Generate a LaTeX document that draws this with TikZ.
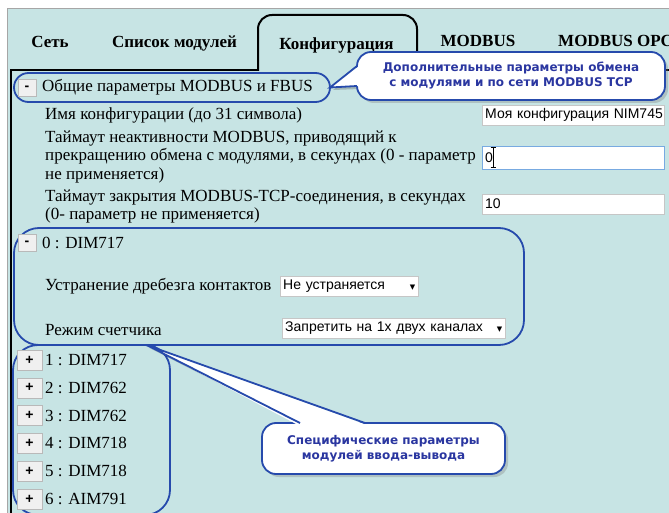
\documentclass[tikz,border=0pt]{standalone}
\usepackage{fontspec}
\setmainfont{Liberation Serif}
\newfontfamily\uifont{Liberation Sans}
\newfontfamily\notefont{DejaVu Sans}
\usetikzlibrary{positioning,calc,shadows}

\definecolor{panelbg}{RGB}{199,228,228}
\definecolor{markblue}{RGB}{38,74,172}
\definecolor{noteblue}{RGB}{42,54,160}
\definecolor{focusblue}{RGB}{120,170,225}

\tikzset{
  tablabel/.style={inner sep=0pt,font=\bfseries\fontsize{17}{20}\selectfont},
  rowlabel/.style={anchor=west,inner sep=0pt,align=left,font=\fontsize{17}{18.5}\selectfont},
  field/.style={anchor=west,draw=gray!45,fill=white,inner sep=3pt,minimum height=20pt,align=left,font=\uifont\fontsize{14}{15}\selectfont},
  pmbutton/.style={draw=gray!55,fill=gray!12,inner sep=0pt,minimum width=18pt,minimum height=17pt,font=\uifont\bfseries\fontsize{14}{14}\selectfont},
  ringbox/.style={draw=markblue,line width=1.8pt,inner sep=0pt,outer sep=0pt},
  notebox/.style={draw=markblue,line width=1.8pt,fill=white,outer sep=0pt,rounded corners=14pt,align=center,text=noteblue,font=\notefont\bfseries\fontsize{12}{15}\selectfont,drop shadow={shadow xshift=3pt,shadow yshift=-3pt,opacity=.35}},
  notetail/.style={draw=markblue,line width=1.8pt,line join=miter},
}

\begin{document}
\begin{tikzpicture}[x=1pt,y=-1pt]
    \useasboundingbox (0,0) rectangle (669,513);
    \clip (0,0) rectangle (669,513);
    \fill[panelbg] (7,8) rectangle (680,520);
    \draw[gray!70] (7,520) -- (7,8) -- (680,8);
    \draw[line width=1.5pt] (11,520) -- (11,70) -- (258,70);
    \draw[line width=1.5pt] (417,70) -- (680,70);
    \draw[line width=2pt,rounded corners=14pt] (258,71) -- (258,15) -- (417,15) -- (417,71);

    \node[tablabel,anchor=base] (tabnet) at (50,48) {Сеть};
    \node[tablabel,anchor=base] (tabmods) at (174.5,48) {Список модулей};
    \node[tablabel,anchor=base] (tabconf) at (336.5,50) {Конфигурация};
    \node[tablabel,anchor=base] (tabmb) at (478,47) {MODBUS};
    \node[tablabel,anchor=base west] (tabopc) at (558,47) {MODBUS OPC};

    \node[ringbox,rounded corners=14.5pt,minimum width=316pt,minimum height=29pt] (ringcommon) at (172,87.5) {};
    \node[pmbutton] (btncommon) at (27,88) {-};
    \node[rowlabel] (common) at (42,87) {Общие параметры MODBUS и FBUS};
    \node[rowlabel] (cfglabel) at (45,115) {Имя конфигурации (до 31 символа)};
    \node[field,text width=176pt] (cfgname) at (482,115) {\mbox{Моя конфигурация NIM745}};
    \node[rowlabel] (idlelabel) at (45,156.5) {Таймаут неактивности MODBUS, приводящий к\\прекращению обмена с модулями, в секундах (0 - параметр\\не применяется)};
    \node[field,draw=focusblue,text width=176pt,minimum height=23pt] (idleval) at (482,157.5) {0};
    \draw[line width=0.9pt] (493,148) -- (493,167) (490.5,147.5) -- (495.5,147.5) (490.5,167.5) -- (495.5,167.5);
    \node[rowlabel] (closelabel) at (45,206.5) {Таймаут закрытия MODBUS-TCP-соединения, в секундах\\(0- параметр не применяется)};
    \node[field,text width=176pt] (closeval) at (482,204) {10};

    \node[ringbox,rounded corners=25pt,minimum width=510pt,minimum height=117pt] (ringdim) at (269,286.5) {};
    \node[pmbutton] (btndim) at (27,243) {-};
    \node[rowlabel] (dimhead) at (42,243) {0 : DIM717};
    \node[rowlabel] (debouncelabel) at (45,286) {Устранение дребезга контактов};
    \node[field,text width=132pt] (debounce) at (280,286.5) {Не устраняется\hfill{\notefont\fontsize{7}{7}\selectfont ▼}};
    \node[rowlabel] (countlabel) at (45,330) {Режим счетчика};
    \node[field,text width=217pt] (countmode) at (282,328) {Запретить на 1х двух каналах\hfill{\notefont\fontsize{7}{7}\selectfont ▼}};

    \node[ringbox,rounded corners=25pt,minimum width=157pt,minimum height=170pt] (ringlist) at (91.5,430) {};
    \foreach \num/\mod [count=\i from 0] in {1/DIM717,2/DIM762,3/DIM762,4/DIM718,5/DIM718,6/AIM791} {
        \node[pmbutton,minimum width=25pt,minimum height=20pt] (btn\num) at (29.5,360+27.8*\i) {+};
        \node[rowlabel] (mod\num) at (45,360+27.8*\i) {\num\ : \mod};
    }

    \fill[black,opacity=.2] (360,69) -- (333,90) -- (360,89) -- cycle;
    \node[notebox,minimum width=308pt,minimum height=48pt] (notecommon) at (511,76) {Дополнительные параметры обмена\\с модулями и по сети MODBUS TCP};
    \fill[white] ($(notecommon.west)+(2,-10)$) -- (ringcommon.east) -- ($(notecommon.west)+(2,10)$) -- cycle;
    \draw[notetail] ($(notecommon.west)+(0,-10)$) -- (ringcommon.east) -- ($(notecommon.west)+(0,10)$);

    \coordinate (modtip) at ($(ringlist.north)+(55,0)$);
    \fill[black,opacity=.2] (303,426) -- (149.5,348) -- (368,426) -- cycle;
    \node[notebox,minimum width=243pt,minimum height=51pt] (notemod) at (383.5,448.5) {Специфические параметры\\модулей ввода-вывода};
    \fill[white] ($(notemod.north west)+(36,2)$) -- (modtip) -- ($(notemod.north west)+(105,2)$) -- cycle;
    \draw[notetail] ($(notemod.north west)+(38,0)$) -- (modtip) -- ($(notemod.north west)+(103,0)$);
\end{tikzpicture}
\end{document}
